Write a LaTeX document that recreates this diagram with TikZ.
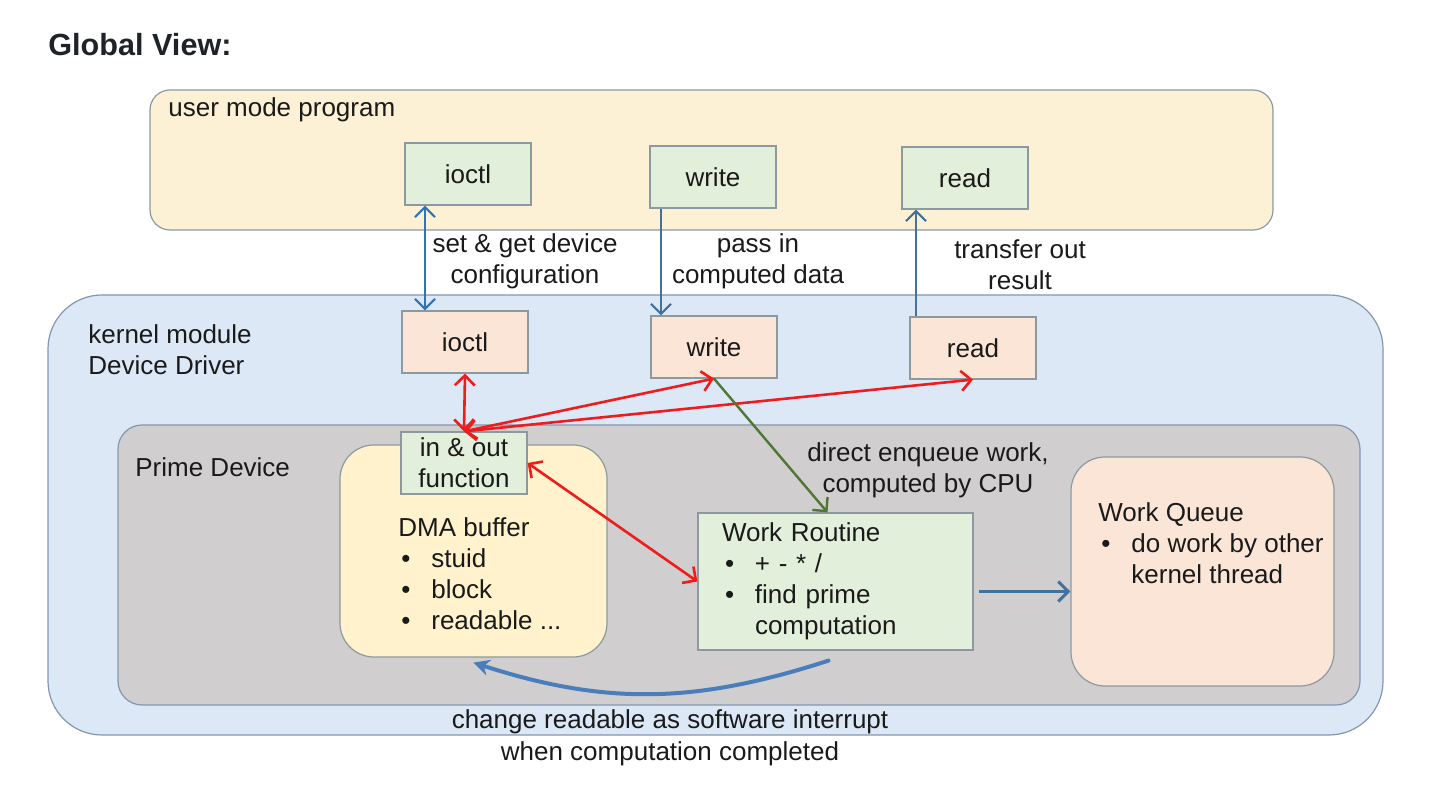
\documentclass[tikz,border=0pt]{standalone}
\usepackage{fontspec}
\setmainfont{Liberation Sans}
\usepackage{tikz}
\usetikzlibrary{arrows.meta}

\definecolor{userfill}{HTML}{FCF1D4}
\definecolor{kernfill}{HTML}{DCE8F5}
\definecolor{primefill}{HTML}{D0CECE}
\definecolor{dmafill}{HTML}{FFF2CC}
\definecolor{greenfill}{HTML}{E2EFDA}
\definecolor{peachfill}{HTML}{FBE5D6}
\definecolor{edgegray}{HTML}{8497B0}
\definecolor{boxgray}{HTML}{8C9AA0}
\definecolor{callblue}{HTML}{2E75B6}
\definecolor{steelblue}{HTML}{41719C}
\definecolor{curveblue}{HTML}{4A7EBB}
\definecolor{redarr}{HTML}{EE1C1C}
\definecolor{greenarr}{HTML}{4E7635}
\definecolor{titletext}{HTML}{1F2328}
\definecolor{bodytext}{HTML}{1A1A1A}

% bullet for the item lists
\newcommand{\itm}{\makebox[16.5pt][l]{\hspace{1.5pt}\textbullet}}

\begin{document}
\begin{tikzpicture}[x=0.5pt, y=-0.5pt,
  >={Straight Barb[length=5pt, width=10pt]},
  every node/.style={font=\fontsize{13}{15.5}\selectfont, text=bodytext},
  lbl/.style={anchor=west, align=left, inner xsep=0pt},
  container/.style={draw=edgegray, line width=0.6pt, inner sep=0pt},
  callbox/.style={draw=boxgray, line width=0.6pt, minimum width=63pt, minimum height=31pt, inner sep=0pt, align=center},
  userbox/.style={callbox, fill=greenfill},
  drvbox/.style={callbox, fill=peachfill},
  callarrow/.style={draw=steelblue, line width=1.1pt, ->},
  redarrow/.style={draw=redarr, line width=1.3pt, <->},
  greenarrow/.style={draw=greenarr, line width=1.2pt, ->},
  curvarrow/.style={draw=curveblue, line width=2pt, line cap=round, -{Stealth[length=8pt, width=8pt]}}]
  \useasboundingbox (0,0) rectangle (1434,790);
  \node[lbl, font=\fontsize{15.3}{18}\selectfont\bfseries, text=titletext] (title) at (48,45) {Global View:};

  % user space
  \node[container, draw=boxgray, fill=userfill, rounded corners=10pt, minimum width=561.5pt, minimum height=70pt] (user) at (711.5,160) {};
  \node[lbl] (userlbl) at (168,110) {user mode program};
  \node[userbox] (ioctlU) at (468,174) {ioctl};
  \node[userbox] (writeU) at (713,177) {write};
  \node[userbox] (readU) at (965,178) {read};

  % kernel module
  \node[container, fill=kernfill, rounded corners=27pt, minimum width=667.5pt, minimum height=220pt] (kern) at (715.5,515) {};
  \node[lbl] (kernlbl) at (88,350) {kernel module\\Device Driver};
  \node[drvbox] (ioctlK) at (465,342) {ioctl};
  \node[drvbox] (writeK) at (714,347) {write};
  \node[drvbox] (readK) at (973,348) {read};

  % prime device
  \node[container, fill=primefill, rounded corners=12pt, minimum width=621pt, minimum height=140pt] (prime) at (739,565) {};
  \node[lbl] (primelbl) at (135,467) {Prime Device};
  \node[container, draw=boxgray, fill=dmafill, rounded corners=17pt, minimum width=133.5pt, minimum height=106pt] (dma) at (473.5,551) {};
  \node[lbl] (dmatxt) at (398,574) {DMA buffer\\\itm stuid\\\itm block\\\itm readable ...};
  \node[userbox] (inout) at (464,463) {in \& out\\function};
  \node[userbox, minimum width=137.5pt, minimum height=68.5pt, text width=113.5pt, inner xsep=12pt, align=left] (work) at (835.5,581.5)
    {Work Routine\\\itm + - * /\\\itm find prime\\\hspace*{16.5pt}computation};
  \node[container, draw=boxgray, fill=peachfill, rounded corners=17pt, minimum width=131.5pt, minimum height=114.5pt] (queue) at (1202.5,571.5) {};
  \node[anchor=north west, align=left, inner sep=0pt] (queuetxt) at (1098,502) {Work Queue\\\itm do work by other\\\hspace*{16.5pt}kernel thread};

  % system calls
  \draw[callarrow, draw=callblue, <->] ([xshift=-21.5pt]ioctlU.south) -- ([xshift=-21.5pt]ioctlU.south |- ioctlK.north);
  \draw[callarrow] ([xshift=-26pt]writeU.south) -- ([xshift=-26pt]writeU.south |- writeK.north);
  \draw[callarrow] ([xshift=-28.5pt]readK.north) -- ([xshift=-28.5pt]readK.north |- readU.south);
  \node[align=center] (cfglbl) at (525,261.5) {set \& get device\\configuration};
  \node[align=center] (passlbl) at (758,261.5) {pass in\\computed data};
  \node[align=center] (xferlbl) at (1020,264.5) {transfer out\\result};

  % inside the driver
  \draw[redarrow] (ioctlK.south) -- (inout.north);
  \draw[redarrow] (inout.north) -- (writeK.south);
  \draw[redarrow] (inout.north) -- (readK.south);
  \draw[redarrow] (inout.east) -- (work.west);
  \draw[greenarrow] (writeK.south) -- ([xshift=-4pt]work.north);
  \node[align=center] (enqlbl) at (928,470) {direct enqueue work,\\computed by CPU};
  \draw[callarrow, line width=1.5pt, shorten <=2.5pt] ([yshift=-5pt]work.east) -- ([yshift=-5pt]work.east -| queue.west);
  %\draw[callarrow] (queue.west) -- (work.east);
  \draw[curvarrow] ([xshift=-3.5pt, yshift=-5pt]work.south) to[out=198, in=-18] ([yshift=-2.5pt]dma.south);
  \node[align=center, font=\fontsize{13}{16}\selectfont] (irqlbl) at (670,738) {change readable as software interrupt\\when computation completed};
\end{tikzpicture}
\end{document}
